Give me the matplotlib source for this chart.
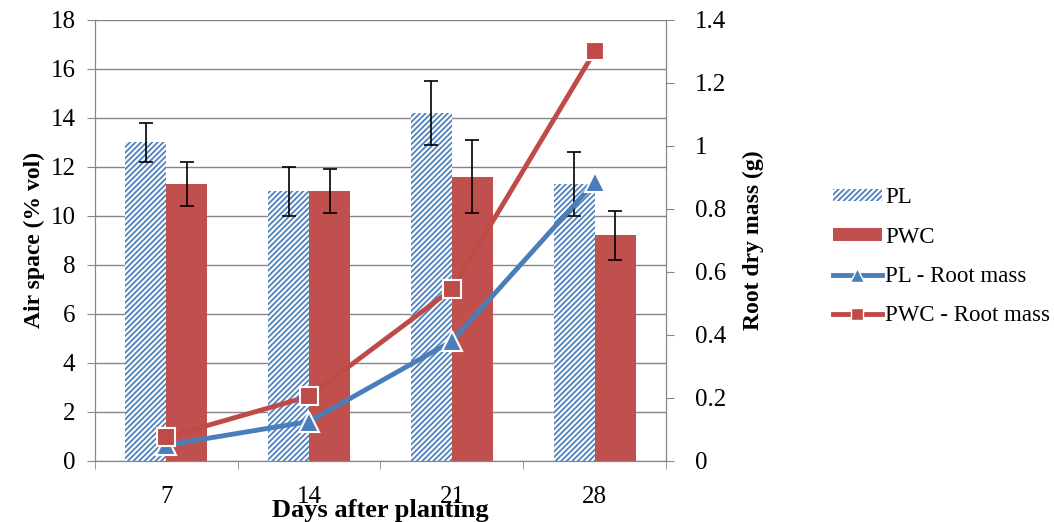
import numpy as np
import matplotlib
matplotlib.use("Agg")
import matplotlib.pyplot as plt
from matplotlib.lines import Line2D
from matplotlib.patches import Patch

plt.rcParams['font.family'] = ['Liberation Serif', 'DejaVu Serif']
plt.rcParams['hatch.linewidth'] = 1.3

# data
days = ['7', '14', '21', '28']
pl_air = [13.0, 11.0, 14.2, 11.3]
pl_err = [0.8, 1.0, 1.3, 1.3]
pwc_air = [11.3, 11.0, 11.6, 9.2]
pwc_err = [0.9, 0.9, 1.5, 1.0]
pl_root = [0.05, 0.125, 0.38, 0.885]
pwc_root = [0.075, 0.205, 0.545, 1.30]

hatch_c = '#4f81bd'
red = '#c0504d'
line_blue = '#4a7ebb'
line_red = '#be4b48'
grid_c = '#868686'

fig = plt.figure(figsize=(10.54, 5.22), dpi=100)
ax = fig.add_axes([0.090, 0.117, 0.542, 0.845])

x = np.arange(len(days))
w = 0.287

ax.bar(x - w/2, pl_air, w, color='white', edgecolor=hatch_c, hatch='//////', linewidth=0, zorder=2)
ax.bar(x + w/2, pwc_air, w, color=red, linewidth=0, zorder=2)
ax.errorbar(x - w/2, pl_air, yerr=pl_err, fmt='none', ecolor='black', elinewidth=1.2, capsize=5, capthick=1.2, zorder=3)
ax.errorbar(x + w/2, pwc_air, yerr=pwc_err, fmt='none', ecolor='black', elinewidth=1.2, capsize=5, capthick=1.2, zorder=3)

ax.set_xlim(-0.5, 3.5)
ax.set_ylim(0, 18)
ax.set_yticks(np.arange(0, 19, 2))
ax.yaxis.grid(True, color=grid_c, linewidth=1.0, zorder=0)
ax.set_axisbelow(True)
ax.set_xticks(x)
ax.set_xticklabels(days)
ax.set_xticks(np.arange(-0.5, 3.6, 1.0), minor=True)
ax.tick_params(axis='x', which='major', length=0, labelsize=18, pad=18)
ax.tick_params(axis='x', which='minor', length=6, color=grid_c, direction='out')
ax.tick_params(axis='y', labelsize=18, length=6, color=grid_c, pad=8)
ax.spines['top'].set_visible(False)
for s in ['left', 'bottom', 'right']:
    ax.spines[s].set_color(grid_c)
ax.set_ylabel('Air space (% vol)', fontsize=17, fontweight='bold', labelpad=4)
ax.set_xlabel('Days after planting', fontsize=19, fontweight='bold', va='center')
ax.xaxis.set_label_coords(0.5, -0.113)

ax2 = ax.twinx()
ax2.plot(x, pl_root, color=line_blue, linewidth=3.5, marker='^', markersize=15,
         markerfacecolor=line_blue, markeredgecolor='white', markeredgewidth=1.5, zorder=4)
ax2.plot(x, pwc_root, color=line_red, linewidth=3.5, marker='s', markersize=13,
         markerfacecolor=line_red, markeredgecolor='white', markeredgewidth=1.5, zorder=4)
ax2.set_ylim(0, 1.4)
ax2.set_yticks(np.arange(0, 1.41, 0.2))
ax2.set_yticklabels(['0', '0.2', '0.4', '0.6', '0.8', '1', '1.2', '1.4'])
ax2.tick_params(axis='y', labelsize=18, length=6, color=grid_c, pad=14.5)
ax2.spines['top'].set_visible(False)
for s in ['left', 'bottom', 'right']:
    ax2.spines[s].set_color(grid_c)
ax2.set_ylabel('Root dry mass (g)', fontsize=17, fontweight='bold', labelpad=12)

handles = [
    Patch(facecolor='white', edgecolor=hatch_c, hatch='//////', linewidth=0),
    Patch(facecolor=red, linewidth=0),
    Line2D([], [], color=line_blue, linewidth=3.5, marker='^', markersize=10,
           markerfacecolor=line_blue, markeredgecolor='white'),
    Line2D([], [], color=line_red, linewidth=3.5, marker='s', markersize=9,
           markerfacecolor=line_red, markeredgecolor='white'),
]
labels = ['PL', 'PWC', 'PL - Root mass', 'PWC - Root mass']
fig.legend(handles, labels, loc='center left', bbox_to_anchor=(0.782, 0.508),
           frameon=False, fontsize=16.5, handlelength=2.1, handleheight=0.45,
           handletextpad=0.15, labelspacing=0.8, borderaxespad=0)

fig.savefig('out.png', dpi=100)
